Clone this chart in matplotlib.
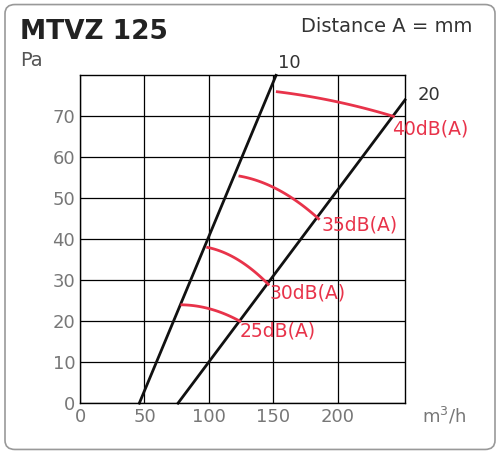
import matplotlib
matplotlib.use("Agg")
import matplotlib.pyplot as plt
import numpy as np
from matplotlib.patches import FancyBboxPatch

xticks = [0, 50, 100, 150, 200]
yticks = [0, 10, 20, 30, 40, 50, 60, 70]
line_labels = ["10", "20"]
line_pts = [[(46, 0), (152, 80)], [(76, 0), (252, 74)]]
curve_labels = ["40dB(A)", "35dB(A)", "30dB(A)", "25dB(A)"]
curve_pts = [
    [(153, 76), (200, 73.5), (243, 70)],
    [(124, 55.4), (157, 51.5), (185, 45)],
    [(99, 38), (125, 34.5), (146, 29)],
    [(79, 24), (103, 22.8), (124, 20)],
]
label_pos = [(242, 67), (187, 43.5), (147, 27), (124, 17.5)]

fig = plt.figure(figsize=(5.0, 4.54), dpi=100)
fig.patches.append(FancyBboxPatch((0.01, 0.01), 0.98, 0.98, boxstyle="round,pad=0,rounding_size=0.02",
                                  transform=fig.transFigure, fill=False, ec="#999999", lw=1.2))
ax = fig.add_axes([0.16, 0.112, 0.65, 0.722])
ax.set_xlim(0, 252)
ax.set_ylim(0, 80)
ax.set_xticks(xticks)
ax.set_yticks(yticks)
ax.grid(True, color="black", lw=0.9)
ax.tick_params(length=0, colors="#777777", labelsize=13)
for s in ax.spines.values():
    s.set_color("black"); s.set_linewidth(1)

for lab, ((x0, y0), (x1, y1)) in zip(line_labels, line_pts):
    ax.plot([x0, x1], [y0, y1], color="#111111", lw=2, clip_on=False)
for lab, pts, lp in zip(curve_labels, curve_pts, label_pos):
    xs = [p[0] for p in pts]; ys = [p[1] for p in pts]
    c = np.polyfit(xs, ys, 2)
    xx = np.linspace(xs[0], xs[-1], 50)
    ax.plot(xx, np.polyval(c, xx), color="#e8334a", lw=2)
    ax.text(lp[0], lp[1], lab, color="#e8334a", fontsize=13.5, ha="left", va="center")

fig.text(0.555, 0.85, "10", fontsize=13, color="#333333")
fig.text(0.835, 0.78, "20", fontsize=13, color="#333333")
fig.text(0.04, 0.915, "MTVZ 125", fontsize=19, fontweight="bold", color="#222222")
fig.text(0.945, 0.93, "Distance A = mm", fontsize=14, color="#333333", ha="right")
fig.text(0.04, 0.855, "Pa", fontsize=14, color="#555555")
fig.text(0.845, 0.07, "m$^3$/h", fontsize=13, color="#777777")
fig.savefig("out.png", dpi=100)
